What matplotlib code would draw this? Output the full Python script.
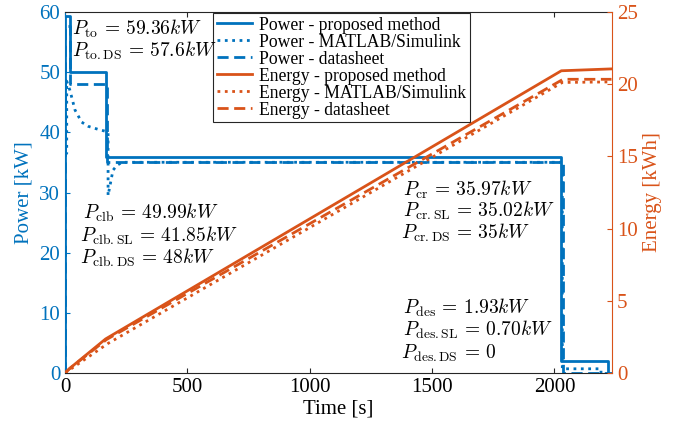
import numpy as np
import matplotlib
matplotlib.use("Agg")
import matplotlib.pyplot as plt

plt.rcParams['font.family'] = ['Liberation Serif', 'DejaVu Serif']
plt.rcParams['mathtext.fontset'] = 'cm'

blue = '#0072BD'
orange = '#D95319'

# power [kW]
t_pw_prop = [0, 0, 20, 20, 166, 166, 2028, 2028, 2220, 2220]
pw_prop = [0, 59.36, 59.36, 49.99, 49.99, 35.97, 35.97, 1.93, 1.93, 0]

t_pw_sl = [0, 7, 7, 20, 41, 68, 95, 135, 163, 176, 176, 196, 212, 233, 2032, 2032, 2190, 2190]
pw_sl = [36.5, 36.5, 48.5, 47.0, 43.7, 41.7, 41.0, 40.5, 40.2, 40.0, 29.5, 33.7, 34.5, 35.02, 35.02, 0.7, 0.7, 0]

t_pw_ds = [0, 0, 20, 20, 170, 170, 2035, 2035, 2233]
pw_ds = [0, 57.6, 57.6, 48, 48, 35, 35, 0, 0]

# energy [kWh]
t_en_prop = [0, 20, 166, 2028, 2233]
en_prop = [0, 0.33, 2.36, 20.93, 21.06]

t_en_sl = [0, 176, 2032, 2233]
en_sl = [0, 2.05, 20.12, 20.16]

t_en_ds = [0, 20, 170, 2035, 2233]
en_ds = [0, 0.32, 2.32, 20.34, 20.34]

W, H = 681, 424
fig = plt.figure(figsize=(W / 100, H / 100), dpi=100)
ax = fig.add_axes([65 / W, 1 - 373 / H, (612 - 65) / W, (373 - 12) / H])
ax2 = ax.twinx()

lw = 2.0
l1, = ax.plot(t_pw_prop, pw_prop, color=blue, lw=lw, label='Power - proposed method')
l2, = ax.plot(t_pw_sl, pw_sl, color=blue, lw=lw, ls=':', label='Power - MATLAB/Simulink')
l3, = ax.plot(t_pw_ds, pw_ds, color=blue, lw=lw, ls=(0, (4, 2)), label='Power - datasheet')
l4, = ax2.plot(t_en_prop, en_prop, color=orange, lw=lw, label='Energy - proposed method')
l5, = ax2.plot(t_en_sl, en_sl, color=orange, lw=lw, ls=':', label='Energy - MATLAB/Simulink')
l6, = ax2.plot(t_en_ds, en_ds, color=orange, lw=lw, ls=(0, (4, 2)), label='Energy - datasheet')

ax.set_xlim(0, 2235)
ax.set_ylim(0, 60)
ax2.set_ylim(0, 25)
ax.set_xticks([0, 500, 1000, 1500, 2000])
ax.set_yticks([0, 10, 20, 30, 40, 50, 60])
ax2.set_yticks([0, 5, 10, 15, 20, 25])

fs = 15
ax.tick_params(axis='x', direction='in', labelsize=fs, top=True, colors='#262626', labelcolor='black')
ax.tick_params(axis='y', direction='in', labelsize=fs, colors=blue)
ax2.tick_params(axis='y', direction='in', labelsize=fs, colors=orange)
for s in ['top', 'bottom']:
    ax.spines[s].set_color('#262626')
ax.spines['left'].set_color(blue)
ax2.spines['left'].set_visible(False)
ax2.spines['right'].set_color(orange)
ax.spines['right'].set_visible(False)
ax2.spines['top'].set_visible(False)
ax2.spines['bottom'].set_visible(False)

ax.set_xlabel('Time [s]', fontsize=fs, labelpad=2)
ax.set_ylabel('Power [kW]', fontsize=fs, color=blue, labelpad=4)
ax2.set_ylabel('Energy [kWh]', fontsize=fs, color=orange, labelpad=4)

leg = ax2.legend(handles=[l1, l2, l3, l4, l5, l6], loc='upper left',
                 bbox_to_anchor=(213 / W, 1 - 13 / H), bbox_transform=fig.transFigure,
                 fontsize=12.7, labelspacing=0.0, handlelength=2.0, handletextpad=0.4,
                 borderpad=0.2, borderaxespad=0, fancybox=False, framealpha=1)
leg.get_frame().set_edgecolor('#262626')
leg.get_frame().set_linewidth(0.8)

def note(x, y, s):
    fig.text(x / W, 1 - y / H, s, fontsize=14, ha='left', va='baseline')

# baselines in pixels
note(72, 35, r'$P_{\mathrm{to}}\,=\,59.36kW$')
note(72, 57, r'$P_{\mathrm{to{.}DS}}\,=\,57.6kW$')
note(83, 219, r'$P_{\mathrm{clb}}\,=\,49.99kW$')
note(80, 242, r'$P_{\mathrm{clb{.}SL}}\,=\,41.85kW$')
note(80, 264, r'$P_{\mathrm{clb{.}DS}}\,=\,48kW$')
note(403, 196, r'$P_{\mathrm{cr}}\,=\,35.97kW$')
note(403, 217, r'$P_{\mathrm{cr{.}SL}}\,=\,35.02kW$')
note(401, 239, r'$P_{\mathrm{cr{.}DS}}\,=\,35kW$')
note(403, 314, r'$P_{\mathrm{des}}\,=\,1.93kW$')
note(403, 336, r'$P_{\mathrm{des{.}SL}}\,=\,0.70kW$')
note(401, 359, r'$P_{\mathrm{des{.}DS}}\,=\,0$')

fig.savefig('out.png', dpi=100)
